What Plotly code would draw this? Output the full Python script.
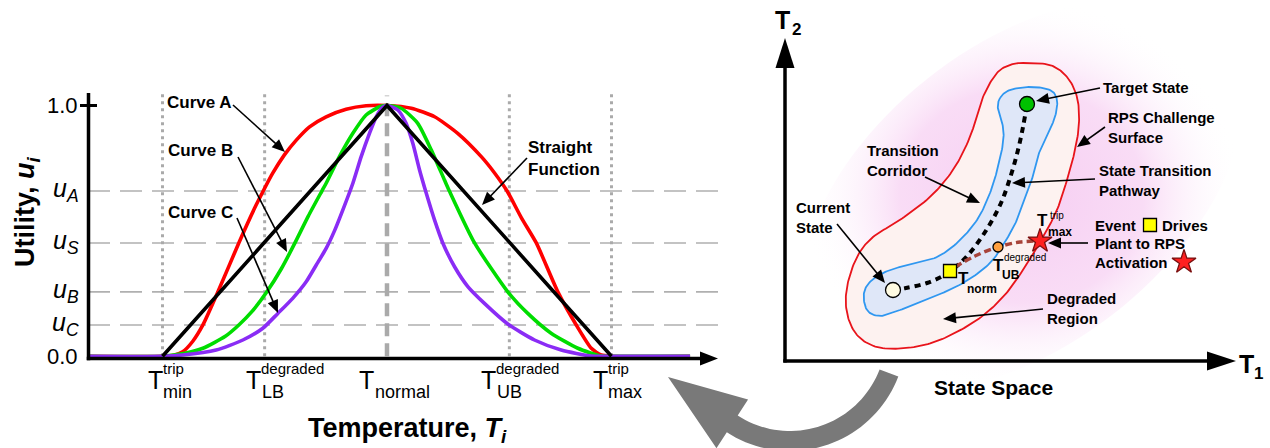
import numpy as np
import plotly.graph_objects as go

W, H = 1270, 448
FONT = "Liberation Sans, Arial, sans-serif"

# ---------------- Left chart data (normalised temperature t, utility u) ----------------
T_TICKS = [-1.0, -0.545, 0.0, 0.545, 1.0]
T_SUBS = ["min", "LB", "normal", "UB", "max"]
T_SUPS = ["trip", "degraded", "", "degraded", "trip"]

U_LEVELS = [0.659, 0.452, 0.257, 0.125]
U_NAMES = ["A", "S", "B", "C"]

STRAIGHT_T = [-1.0, 0.0, 1.0]
STRAIGHT_U = [0.0, 1.0, 0.0]

CURVE_A_T = [-1.334, -1.0, -0.95, -0.91, -0.865, -0.82, -0.753, -0.66, -0.59, -0.553, -0.509, -0.457, -0.404,
             -0.345, -0.271, -0.182, -0.093, 0.0, 0.108, 0.212, 0.315, 0.42, 0.48, 0.535, 0.60, 0.665, 0.761,
             0.843, 0.91, 0.954, 1.0, 1.35]
CURVE_A_U = [0, 0, 0.004, 0.018, 0.06, 0.125, 0.257, 0.452, 0.59, 0.656, 0.73, 0.803, 0.862,
             0.915, 0.955, 0.985, 0.999, 1.0, 0.989, 0.955, 0.889, 0.796, 0.73, 0.659, 0.55, 0.452, 0.257,
             0.125, 0.032, 0.005, 0, 0]

CURVE_B_T = [-1.334, -1.0, -0.9, -0.82, -0.72, -0.66, -0.60, -0.535, -0.47, -0.41, -0.35, -0.29, -0.271, -0.212,
             -0.152, -0.093, -0.033, 0.0, 0.063, 0.137, 0.197, 0.256, 0.278, 0.39, 0.538, 0.627, 0.731, 0.85,
             0.954, 1.0, 1.35]
CURVE_B_U = [0, 0, 0.012, 0.032, 0.08, 0.125, 0.18, 0.257, 0.35, 0.452, 0.56, 0.659, 0.69, 0.796,
             0.889, 0.962, 0.995, 1.0, 0.989, 0.929, 0.823, 0.703, 0.659, 0.452, 0.257, 0.171, 0.092, 0.032,
             0.001, 0, 0]

CURVE_C_T = [-1.334, -1.0, -0.91, -0.761, -0.642, -0.553, -0.486, -0.42, -0.36, -0.315, -0.271, -0.234, -0.197,
             -0.152, -0.115, -0.078, -0.048, -0.019, 0.0, 0.048, 0.085, 0.115, 0.145, 0.175, 0.212, 0.249,
             0.301, 0.36, 0.434, 0.538, 0.657, 0.776, 0.91, 1.0, 1.35]
CURVE_C_U = [0, 0, 0.005, 0.025, 0.065, 0.112, 0.171, 0.231, 0.297, 0.364, 0.43, 0.50, 0.583,
             0.69, 0.796, 0.889, 0.955, 0.993, 1.0, 0.982, 0.929, 0.849, 0.743, 0.65, 0.543, 0.451,
             0.357, 0.278, 0.211, 0.129, 0.065, 0.025, 0.001, 0, 0]

# ---------------- Right diagram data (state-space schematic, pixel units) ----------------
RPS_X = [1023, 1050, 1067, 1077, 1079, 1075, 1067, 1057, 1043, 1023, 1003, 977, 940, 907, 877, 857, 847, 847,
         857, 873, 900, 930, 953, 970, 983, 997, 1010]
RPS_Y = [63, 65, 77, 97, 123, 150, 180, 210, 237, 270, 297, 320, 340, 348, 347, 335, 313, 287,
         257, 237, 220, 197, 170, 137, 97, 73, 65]

CORR_X = [1000, 1010, 1030, 1050, 1057, 1055, 1048, 1040, 1035, 1028, 1020, 1008, 990, 963, 933, 900, 880,
          867, 864, 872, 890, 917, 937, 957, 977, 990, 998, 1003, 1003, 998]
CORR_Y = [98, 90, 87, 90, 100, 117, 133, 150, 170, 190, 213, 237, 263, 283, 297, 310, 316,
          310, 293, 280, 270, 263, 257, 243, 220, 193, 167, 143, 127, 110]

PATH_X = [893, 906, 927, 948, 968, 987, 1001, 1011, 1018, 1023, 1027]
PATH_Y = [290, 288, 283, 273, 255, 229, 203, 175, 150, 127, 104]

DEGR_X = [955, 975, 998, 1020, 1040]
DEGR_Y = [267, 256, 247, 242, 241]

CURRENT = (893, 290)
TARGET = (1027, 104)
EVENT_SQ = (950, 271)
UB_PT = (998, 247)
TRIP_STAR = (1040, 241)

# ---------------- helpers ----------------
def catmull_closed(xs, ys, n=14):
    P = np.column_stack([xs, ys]).astype(float)
    m = len(P)
    out = []
    for i in range(m):
        p0, p1, p2, p3 = P[(i - 1) % m], P[i], P[(i + 1) % m], P[(i + 2) % m]
        for s in np.linspace(0, 1, n, endpoint=False):
            out.append(0.5 * ((2 * p1) + (-p0 + p2) * s + (2 * p0 - 5 * p1 + 4 * p2 - p3) * s ** 2
                              + (-p0 + 3 * p1 - 3 * p2 + p3) * s ** 3))
    out.append(out[0])
    out = np.array(out)
    return out[:, 0], out[:, 1]


def poly_path(pts):
    return "M" + " L".join(f"{x:.2f},{y:.2f}" for x, y in pts) + " Z"


fig = go.Figure()

# ---------------- left chart traces ----------------
LW = 3.6
SM = 0.6
fig.add_trace(go.Scatter(x=CURVE_A_T, y=CURVE_A_U, mode="lines", line=dict(color="#ff0000", width=LW, shape="spline", smoothing=SM)))
fig.add_trace(go.Scatter(x=CURVE_B_T, y=CURVE_B_U, mode="lines", line=dict(color="#00dd00", width=LW, shape="spline", smoothing=SM)))
fig.add_trace(go.Scatter(x=CURVE_C_T, y=CURVE_C_U, mode="lines", line=dict(color="#8a2cf5", width=LW, shape="spline", smoothing=SM)))
fig.add_trace(go.Scatter(x=STRAIGHT_T, y=STRAIGHT_U, mode="lines", line=dict(color="#000000", width=LW)))

# ---------------- right diagram traces ----------------
# soft pink glow
ang = np.linspace(0, 2 * np.pi, 120)
rot = np.deg2rad(-38)
gx0 = 255 * np.cos(ang)
gy0 = 150 * np.sin(ang)
gx = 1022 + gx0 * np.cos(rot) - gy0 * np.sin(rot)
gy = 195 + gx0 * np.sin(rot) + gy0 * np.cos(rot)
fig.add_trace(go.Scatter(x=gx, y=gy, xaxis="x2", yaxis="y2", mode="none", fill="toself",
                         fillgradient=dict(type="radial",
                                           colorscale=[[0, "rgba(246,205,242,1)"], [0.55, "rgba(248,214,244,0.85)"],
                                                       [1, "rgba(255,255,255,0)"]])))
rx, ry = catmull_closed(RPS_X, RPS_Y)
fig.add_trace(go.Scatter(x=rx, y=ry, xaxis="x2", yaxis="y2", mode="lines", fill="toself",
                         fillcolor="#fdf2f0", line=dict(color="#e8141b", width=1.8)))
cx, cy = catmull_closed(CORR_X, CORR_Y)
fig.add_trace(go.Scatter(x=cx, y=cy, xaxis="x2", yaxis="y2", mode="lines", fill="toself",
                         fillcolor="#dfe7f8", line=dict(color="#2f97f0", width=1.8)))
fig.add_trace(go.Scatter(x=PATH_X, y=PATH_Y, xaxis="x2", yaxis="y2", mode="lines",
                         line=dict(color="#000000", width=4, dash="6px,5px", shape="spline")))
fig.add_trace(go.Scatter(x=DEGR_X, y=DEGR_Y, xaxis="x2", yaxis="y2", mode="lines",
                         line=dict(color="#a8443a", width=3.5, dash="7px,4px", shape="spline")))
mk = [
    (CURRENT, "circle", 15, "#fffbe2"),
    (TARGET, "circle", 15, "#00c000"),
    (EVENT_SQ, "square", 13, "#ffff00"),
    (UB_PT, "circle", 10, "#ffa040"),
    (TRIP_STAR, "star", 18, "#ff2020"),
    ((1150, 225), "square", 13, "#ffff00"),
    ((1184, 262), "star", 18, "#ff2020"),
]
for (px, py), sym, sz, col in mk:
    fig.add_trace(go.Scatter(x=[px], y=[py], xaxis="x2", yaxis="y2", mode="markers",
                             marker=dict(symbol=sym, size=sz, color=col,
                                         line=dict(color="#7a1010" if sym == "star" else "#000000", width=1.3))))

shapes = []
annos = []

# ---------------- left chart decorations ----------------
GRID = "#b0b0b0"
for u in U_LEVELS:
    shapes.append(dict(type="line", xref="x", yref="y", x0=-1.3318, x1=1.4744, y0=u, y1=u,
                       line=dict(color=GRID, width=1.6, dash="22px,10px"), layer="below"))
for t in T_TICKS:
    if t == 0.0:
        shapes.append(dict(type="line", xref="x", yref="y", x0=t, x1=t, y0=0, y1=1.04,
                           line=dict(color="#aaaaaa", width=4.5, dash="13px,7px"), layer="below"))
    else:
        shapes.append(dict(type="line", xref="x", yref="y", x0=t, x1=t, y0=0, y1=1.05,
                           line=dict(color="#aaaaaa", width=3, dash="3px,4px"), layer="below"))

# axes (pixel units on overlay axis)
shapes.append(dict(type="line", xref="x2", yref="y2", x0=86.75, x1=702, y0=358.5, y1=358.5,
                   line=dict(color="black", width=3.5)))
shapes.append(dict(type="path", xref="x2", yref="y2", path=poly_path([(700, 351.5), (718, 358.5), (700, 365.5)]),
                   fillcolor="black", line=dict(width=0)))
shapes.append(dict(type="line", xref="x2", yref="y2", x0=88.5, x1=88.5, y0=93, y1=360.2,
                   line=dict(color="black", width=3.5)))
shapes.append(dict(type="line", xref="x2", yref="y2", x0=80, x1=97, y0=105.5, y1=105.5,
                   line=dict(color="black", width=3)))

# right axes
shapes.append(dict(type="line", xref="x2", yref="y2", x0=785, x1=785, y0=362.5, y1=62,
                   line=dict(color="black", width=3.5)))
shapes.append(dict(type="path", xref="x2", yref="y2", path=poly_path([(775.5, 68), (785, 38), (794.5, 68)]),
                   fillcolor="black", line=dict(width=0)))
shapes.append(dict(type="line", xref="x2", yref="y2", x0=783.3, x1=1212, y0=361, y1=361,
                   line=dict(color="black", width=3.5)))
shapes.append(dict(type="path", xref="x2", yref="y2", path=poly_path([(1207, 351.5), (1236, 361), (1207, 370.5)]),
                   fillcolor="black", line=dict(width=0)))

# big grey curved arrow
cxa, cya, r_out, r_in = 790, 335, 116, 96
a0, a1 = np.deg2rad(21), np.deg2rad(123)
arc = np.linspace(a0, a1, 40)
outer = [(cxa + r_out * np.cos(a), cya + r_out * np.sin(a)) for a in arc]
inner = [(cxa + r_in * np.cos(a), cya + r_in * np.sin(a)) for a in arc[::-1]]
rm = 106
ex, ey = cxa + rm * np.cos(a1), cya + rm * np.sin(a1)
nx, ny = np.cos(a1), np.sin(a1)
pts = outer + [(ex + 29 * nx, ey + 29 * ny), (668, 377), (ex - 29 * nx, ey - 29 * ny)] + inner
shapes.append(dict(type="path", xref="x2", yref="y2", path=poly_path(pts), fillcolor="#797979",
                   line=dict(width=0)))


def A(text, x, y, size, xanchor="center", yanchor="middle", xref="x2", yref="y2", color="black", **kw):
    d = dict(text=text, x=x, y=y, xref=xref, yref=yref, showarrow=False, xanchor=xanchor, yanchor=yanchor,
             font=dict(family=FONT, size=size, color=color), borderpad=0, borderwidth=0)
    d.update(kw)
    annos.append(d)


def ARROW(x0, y0, x1, y1, L=13, hw=5.5, width=1.6):
    dx, dy = x1 - x0, y1 - y0
    n = np.hypot(dx, dy)
    ux, uy = dx / n, dy / n
    bx, by = x1 - L * ux, y1 - L * uy
    shapes.append(dict(type="line", xref="x2", yref="y2", x0=x0, y0=y0, x1=bx + 2 * ux, y1=by + 2 * uy,
                       line=dict(color="black", width=width)))
    shapes.append(dict(type="path", xref="x2", yref="y2",
                       path=poly_path([(x1, y1), (bx - hw * uy, by + hw * ux), (bx + hw * uy, by - hw * ux)]),
                       fillcolor="black", line=dict(width=0)))


# y tick labels
A("1.0", 78, 105.5, 22, xanchor="right", xref="x2", yref="y2")
A("0.0", 78, 356.5, 22, xanchor="right", xref="x2", yref="y2")
for u, nm in zip(U_LEVELS, U_NAMES):
    A(f"<i>u<sub>{nm}</sub></i>", 79, u, 25, xanchor="right", xref="x2", yref="y", yshift=1.0)

# x tick labels (T with stacked super/subscripts)
T_DX = [0.3, -3.5, -12.5, -13, -3.7]
for t, sub, sup, dx in zip(T_TICKS, T_SUBS, T_SUPS, T_DX):
    A("T", t, 379.6, 25, xanchor="right", xref="x", yref="y2", xshift=dx)
    A(sub, t, 392.0, 18, xanchor="left", xref="x", yref="y2", xshift=dx + 0.5)
    if sup:
        A(sup, t, 368.8, 15, xanchor="left", xref="x", yref="y2", xshift=dx)

# axis titles
A("<b>Temperature, <i>T<sub>i</sub></i></b>", 407, 430, 27)
A("<b>Utility, <i>u<sub>i</sub></i></b>", 27, 212, 27, textangle=-90)

# curve labels
A("<b>Curve A</b>", 167, 102, 17, xanchor="left")
A("<b>Curve B</b>", 168, 150, 17, xanchor="left")
A("<b>Curve C</b>", 168, 212, 17, xanchor="left")
A("<b>Straight<br>Function</b>", 528, 158, 17, xanchor="left", align="left")
ARROW(233, 105, 285, 152)
ARROW(238, 157, 287, 252)
ARROW(237, 218, 278, 313)
ARROW(527, 158, 482, 205)

# right diagram labels
A("<b>Target State</b>", 1103, 87, 15, xanchor="left")
A("<b>RPS Challenge<br>Surface</b>", 1108, 127, 15, xanchor="left", align="left")
A("<b>Transition<br>Corridor</b>", 867, 160, 15, xanchor="left", align="left")
A("<b>State Transition<br>Pathway</b>", 1099, 180.5, 15, xanchor="left", align="left")
A("<b>Current<br>State</b>", 796, 217.5, 15, xanchor="left", align="left")
A("<b>Event</b>", 1095, 225, 15, xanchor="left")
A("<b>Drives</b>", 1162, 225, 15, xanchor="left")
A("<b>Plant to RPS</b>", 1095, 243.5, 15, xanchor="left")
A("<b>Activation</b>", 1095, 262, 15, xanchor="left")
A("<b>Degraded<br>Region</b>", 1047, 308.5, 15, xanchor="left", align="left")
ARROW(1100, 88, 1036, 101)
ARROW(1105, 127, 1077, 147)
ARROW(925, 177, 980, 203)
ARROW(1095, 179, 1012, 183)
ARROW(837, 224, 885, 283)
ARROW(1088, 243, 1048, 243)
ARROW(1043, 309, 943, 319)

# state labels
A("<b>T</b>", 963, 278, 17)
A("<b>norm</b>", 982, 289, 12)
A("<b>T</b>", 998, 265, 17)
A("degraded", 1025, 257.5, 10)
A("<b>UB</b>", 1011, 275, 12)
A("<b>T</b>", 1042.5, 220.5, 17)
A("trip", 1057, 215, 10)
A("<b>max</b>", 1060, 232, 12)

# state-space axes labels
A("<b>T</b>", 782, 19.5, 25)
A("<b>2</b>", 796, 29, 17)
A("<b>T</b>", 1246, 363.5, 25)
A("<b>1</b>", 1258.5, 373, 17)
A("<b>State Space</b>", 993, 387, 21)

fig.update_layout(
    width=W, height=H, margin=dict(l=0, r=0, t=0, b=0),
    paper_bgcolor="white", plot_bgcolor="rgba(0,0,0,0)", showlegend=False,
    xaxis=dict(domain=[88 / W, 718 / W], range=[-1.3318, 1.4744], visible=False, fixedrange=True),
    yaxis=dict(domain=[(H - 360.25) / H, (H - 93) / H], range=[-0.01575, 1.0498], visible=False, fixedrange=True),
    xaxis2=dict(domain=[0, 1], range=[0, W], visible=False, anchor="y2", fixedrange=True),
    yaxis2=dict(domain=[0, 1], range=[H, 0], visible=False, anchor="x2", fixedrange=True),
    shapes=shapes, annotations=annos,
)

fig.write_html("out.html")
